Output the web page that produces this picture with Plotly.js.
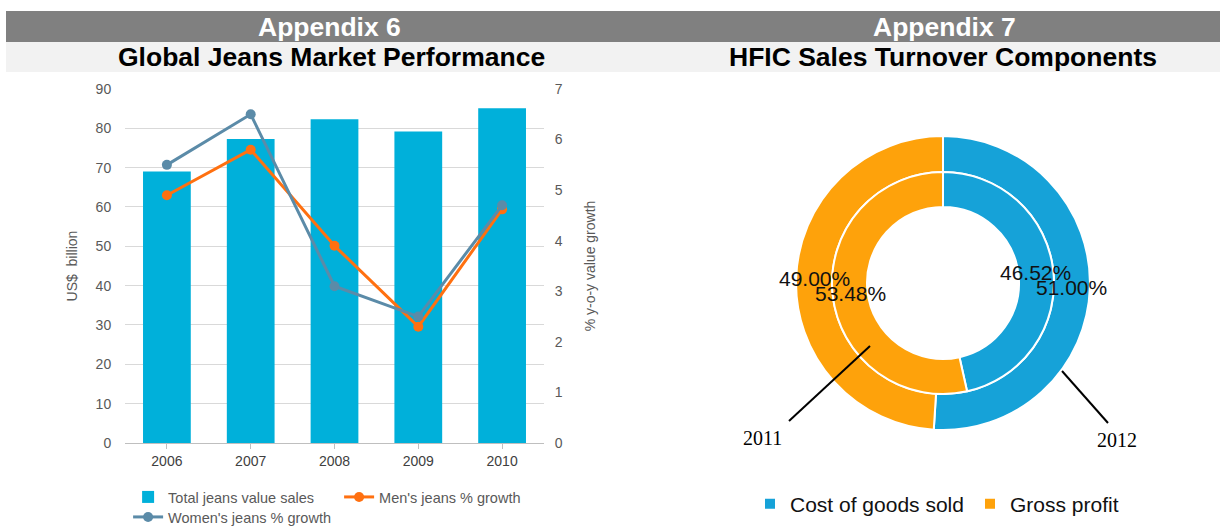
<!DOCTYPE html>
<html>
<head>
<meta charset="utf-8">
<script src="https://cdn.plot.ly/plotly-3.0.1.min.js"></script>
<style>
  html, body { margin: 0; padding: 0; background: #fff; overflow: hidden; }
  #chart { width: 1220px; height: 526px; }
</style>
</head>
<body>
<div id="chart"></div>
<script>
// Appendix 6 - jeans market, Appendix 7 - HFIC turnover split
var years = ['2006', '2007', '2008', '2009', '2010'];
var totalSales = [69, 77.3, 82.3, 79.2, 85.1];      // US$ billion
var mensGrowth = [4.9, 5.8, 3.9, 2.3, 4.62];        // % y-o-y
var womensGrowth = [5.5, 6.5, 3.1, 2.5, 4.7];       // % y-o-y

var pieLabels = ['Cost of goods sold', 'Gross profit'];
var share2012 = [51.00, 49.00];
var share2011 = [46.52, 53.48];

var W = 1220, H = 526;
var blue = '#16a2d8';
var orange = '#fea20b';
var grey = '#595959';
var sans = 'Arial, Liberation Sans, sans-serif';
var serif = 'Liberation Serif, Times New Roman, serif';

var outerDomain = {x: [0.6525, 0.8934], y: [0.1825, 0.7414]};
var innerDomain = {x: [0.682, 0.8639], y: [0.251, 0.673]};
var outerHole = 0.755, innerHole = 0.685;

var total = {
    x: years,
    y: totalSales,
    name: 'Total jeans value sales',
    type: 'bar',
    marker: {color: '#00b0da'},
    xaxis: 'x',
    yaxis: 'y',
    legend: 'legend'
};

var mens = {
    x: years,
    y: mensGrowth,
    name: "Men's jeans % growth",
    type: 'scatter',
    mode: 'lines+markers',
    line: {color: '#ff7010', width: 3},
    marker: {color: '#ff7010', size: 10},
    xaxis: 'x',
    yaxis: 'y2',
    legend: 'legend'
};

var womens = {
    x: years,
    y: womensGrowth,
    name: "Women's jeans % growth",
    type: 'scatter',
    mode: 'lines+markers',
    line: {color: '#5b8ba8', width: 3},
    marker: {color: '#5b8ba8', size: 10},
    xaxis: 'x',
    yaxis: 'y2',
    legend: 'legend3'
};

function ring(values, domain, hole, showlegend) {
    return {
        type: 'pie',
        labels: pieLabels,
        values: values,
        sort: false,
        direction: 'clockwise',
        rotation: 0,
        hole: hole,
        domain: domain,
        marker: {colors: [blue, orange], line: {color: '#fff', width: 2}},
        textinfo: 'none',
        hoverinfo: 'label+percent',
        showlegend: showlegend,
        legend: 'legend2'
    };
}

var ring2012 = ring(share2012, outerDomain, outerHole, true);
var ring2011 = ring(share2011, innerDomain, innerHole, false);

// percentage labels sit at the middle of each slice, on top of both rings
// (plotly's own inside text gets hidden under the other ring)
function ringLabels(values, domain, hole) {
    var cx = (domain.x[0] + domain.x[1]) / 2;
    var cy = (domain.y[0] + domain.y[1]) / 2;
    var R = Math.min((domain.x[1] - domain.x[0]) * W, (domain.y[1] - domain.y[0]) * H) / 2;
    var rMid = R * (1 + hole) / 2;
    var sum = values.reduce(function(a, b) { return a + b; }, 0);
    var acc = 0;
    return values.map(function(v) {
        var mid = (acc + v / 2) / sum * 2 * Math.PI;
        acc += v;
        return {
            text: v.toFixed(2) + '%',
            xref: 'paper', yref: 'paper',
            x: cx + rMid * Math.sin(mid) / W,
            y: cy + rMid * Math.cos(mid) / H,
            xanchor: 'center', yanchor: 'middle',
            showarrow: false,
            font: {family: sans, size: 21, color: '#111'}
        };
    });
}

var data = [total, mens, womens, ring2012, ring2011];

var layout = {
    width: W,
    height: H,
    // legends sit in the margins on purpose, so don't let them push the plot
    margin: {l: 0, r: 0, t: 0, b: 0, autoexpand: false},
    paper_bgcolor: '#fff',
    plot_bgcolor: 'rgba(0,0,0,0)',
    font: {family: sans, color: grey, size: 14},
    bargap: 0.43,
    xaxis: {
        domain: [0.10246, 0.4459],
        anchor: 'y',
        showline: true,
        linecolor: '#bfbfbf',
        linewidth: 1,
        ticks: 'outside',
        tickson: 'boundaries',
        ticklen: 5,
        tickcolor: '#bfbfbf',
        tickfont: {size: 14, color: '#404040'},
        showgrid: false
    },
    yaxis: {
        domain: [0.15779, 0.8308],
        anchor: 'x',
        range: [0, 90],
        dtick: 10,
        gridcolor: '#d9d9d9',
        zeroline: false,
        tickfont: {size: 14, color: grey},
        ticks: 'outside',
        ticklen: 10,
        tickcolor: 'rgba(0,0,0,0)',
        title: {text: 'US$  billion', font: {size: 14, color: grey}, standoff: 14}
    },
    yaxis2: {
        overlaying: 'y',
        anchor: 'x',
        side: 'right',
        range: [0, 7],
        dtick: 1,
        showgrid: false,
        zeroline: false,
        tickfont: {size: 14, color: grey},
        ticks: 'outside',
        ticklen: 7,
        tickcolor: 'rgba(0,0,0,0)',
        title: {text: '% y-o-y value growth', font: {size: 14, color: grey}, standoff: 23}
    },
    legend: {
        orientation: 'h',
        x: 0.105, xanchor: 'left',
        y: 1 - 497 / H, yanchor: 'middle',
        entrywidth: 166, entrywidthmode: 'pixels',
        font: {size: 14.5, color: grey},
        bgcolor: 'rgba(0,0,0,0)'
    },
    legend3: {
        orientation: 'h',
        x: 0.105, xanchor: 'left',
        y: 1 - 517 / H, yanchor: 'middle',
        font: {size: 14.5, color: grey},
        bgcolor: 'rgba(0,0,0,0)'
    },
    legend2: {
        orientation: 'h',
        x: 750 / W, xanchor: 'left',
        y: 1 - 504 / H, yanchor: 'middle',
        font: {size: 21, color: '#111'},
        entrywidth: 175, entrywidthmode: 'pixels',
        bgcolor: 'rgba(0,0,0,0)'
    },
    shapes: [
        {type: 'rect', xref: 'paper', yref: 'paper', x0: 6 / W, x1: 1, y0: 1 - 42 / H, y1: 1 - 11 / H,
         fillcolor: '#808080', line: {width: 0}, layer: 'below'},
        {type: 'rect', xref: 'paper', yref: 'paper', x0: 6 / W, x1: 1, y0: 1 - 72 / H, y1: 1 - 42 / H,
         fillcolor: '#f2f2f2', line: {width: 0}, layer: 'below'},
        // leader lines for the ring captions
        {type: 'line', xref: 'paper', yref: 'paper', x0: 789 / W, y0: 1 - 421 / H, x1: 870 / W, y1: 1 - 346 / H,
         line: {color: '#000', width: 2}},
        {type: 'line', xref: 'paper', yref: 'paper', x0: 1062 / W, y0: 1 - 371 / H, x1: 1108 / W, y1: 1 - 423 / H,
         line: {color: '#000', width: 2}}
    ],
    annotations: [
        {text: '<b>Appendix 6</b>', x: 329 / W, y: 1 - 27 / H},
        {text: '<b>Global Jeans Market Performance</b>', x: 331 / W, y: 1 - 57 / H},
        {text: '<b>Appendix 7</b>', x: 944 / W, y: 1 - 27 / H},
        {text: '<b>HFIC Sales Turnover Components</b>', x: 943 / W, y: 1 - 57 / H},
        {text: '2011', x: 762 / W, y: 1 - 438 / H},
        {text: '2012', x: 1117 / W, y: 1 - 440 / H}
    ].map(function(a, i) {
        a.xref = 'paper'; a.yref = 'paper';
        a.xanchor = 'center'; a.yanchor = 'middle';
        a.showarrow = false;
        if (i < 4) {
            a.font = {family: sans, size: 26.5, color: i % 2 === 0 ? '#fff' : '#000'};
        } else {
            a.font = {family: serif, size: 20, color: '#000'};
        }
        return a;
    }).concat(ringLabels(share2011, innerDomain, innerHole), ringLabels(share2012, outerDomain, outerHole))
};

Plotly.newPlot('chart', data, layout, {displayModeBar: false});
</script>
</body>
</html>
